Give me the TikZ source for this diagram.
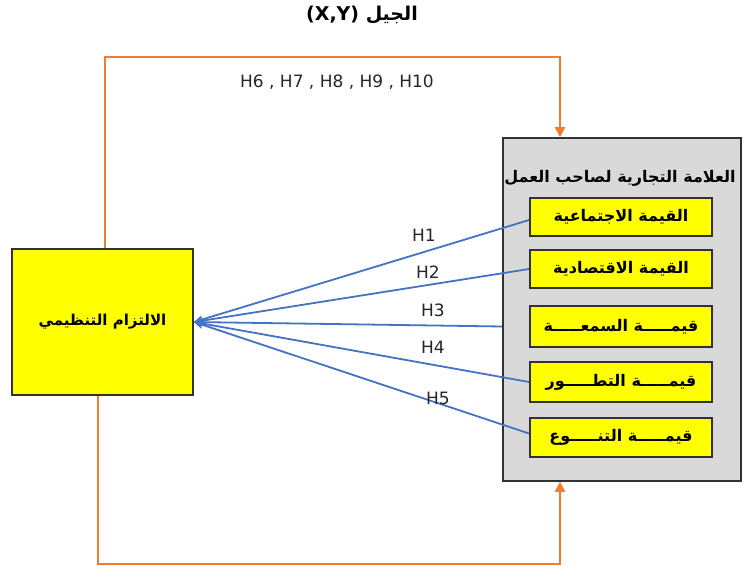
\documentclass[tikz,border=0pt]{standalone}
\usepackage{fontspec}
\setmainfont{DejaVu Sans}
\newfontfamily\arabicfont[Script=Arabic]{DejaVu Sans}
\TeXXeTstate=1
\usetikzlibrary{arrows.meta}
\definecolor{orng}{RGB}{237,125,49}
\definecolor{blu}{RGB}{68,114,196}
\definecolor{gry}{RGB}{217,217,217}
\definecolor{yel}{RGB}{255,255,0}
\definecolor{bord}{RGB}{50,50,50}
\tikzset{
  ybox/.style={draw=bord, line width=1.8pt, fill=yel, inner sep=0pt},
  gbox/.style={draw=bord, line width=1.6pt, fill=gry, inner sep=0pt},
  artext/.style={font=\arabicfont\bfseries\fontsize{16}{18}\selectfont},
  hlab/.style={font=\fontsize{17}{19}\selectfont, text=black!85},
  orline/.style={draw=orng, line width=2.8pt, -{Triangle[length=10pt,width=10pt]}},
  blline/.style={draw=blu, line width=1.8pt, -{Stealth[length=9pt,width=8pt]}}
}
\begin{document}
\begin{tikzpicture}[x=1pt,y=-1pt]
\useasboundingbox (0,0) rectangle (744,567);
% boxes
\node[gbox, minimum width=238pt, minimum height=343pt] (grey) at (622,309.5) {};
\node[ybox, minimum width=181pt, minimum height=146pt, artext, font=\arabicfont\bfseries\fontsize{15}{17}\selectfont] (lbox) at (102.5,322) {\beginR الالتزام التنظيمي\endR};
\node[artext, font=\arabicfont\bfseries\fontsize{16}{18}\selectfont] (gtitle) at (620,178) {\beginR العلامة التجارية لصاحب العمل\endR};
\node[ybox, minimum width=182pt, minimum height=38pt, artext] (y1) at (621,217) {\beginR القيمة الاجتماعية\endR};
\node[ybox, minimum width=182pt, minimum height=38pt, artext] (y2) at (621,269) {\beginR القيمة الاقتصادية\endR};
\node[ybox, minimum width=182pt, minimum height=41pt, artext] (y3) at (621,326.5) {\beginR قيمـــــة السمعـــــة\endR};
\node[ybox, minimum width=182pt, minimum height=40pt, artext] (y4) at (621,382) {\beginR قيمـــــة التطـــــور\endR};
\node[ybox, minimum width=182pt, minimum height=39pt, artext] (y5) at (621,437.5) {\beginR قيمـــــة التنـــــوع\endR};
% top labels
\node[artext, font=\arabicfont\bfseries\fontsize{19}{21}\selectfont] (gen) at (362,15) {\beginR الجيل \beginL(X,Y)\endL\endR};
\node[hlab] (h610) at (337,82) {H6 , H7 , H8 , H9 , H10};
% orange loops
\coordinate (tl) at (105,57);
\coordinate (tr) at (560,57);
\coordinate (bl) at (98,564);
\coordinate (br) at (560,564);
\draw[orline] (lbox.north -| tl) -- (tl) -- (tr) -- (grey.north -| tr);
\draw[orline] (lbox.south -| bl) -- (bl) -- (br) -- (grey.south -| br);
% blue lines
\draw[blline] ([yshift=-3pt]y1.west) -- (lbox.east);
\draw[blline] (y2.west) -- (lbox.east);
\draw[blline] (grey.west |- y3.west) -- (lbox.east);
\draw[blline] (y4.west) -- (lbox.east);
\draw[blline] ([yshift=4pt]y5.west) -- (lbox.east);
% H labels
\node[hlab] (h1) at (424,235) {H1};
\node[hlab] (h2) at (428,272) {H2};
\node[hlab] (h3) at (433,310) {H3};
\node[hlab] (h4) at (433,347) {H4};
\node[hlab] (h5) at (438,398) {H5};
\end{tikzpicture}
\end{document}
